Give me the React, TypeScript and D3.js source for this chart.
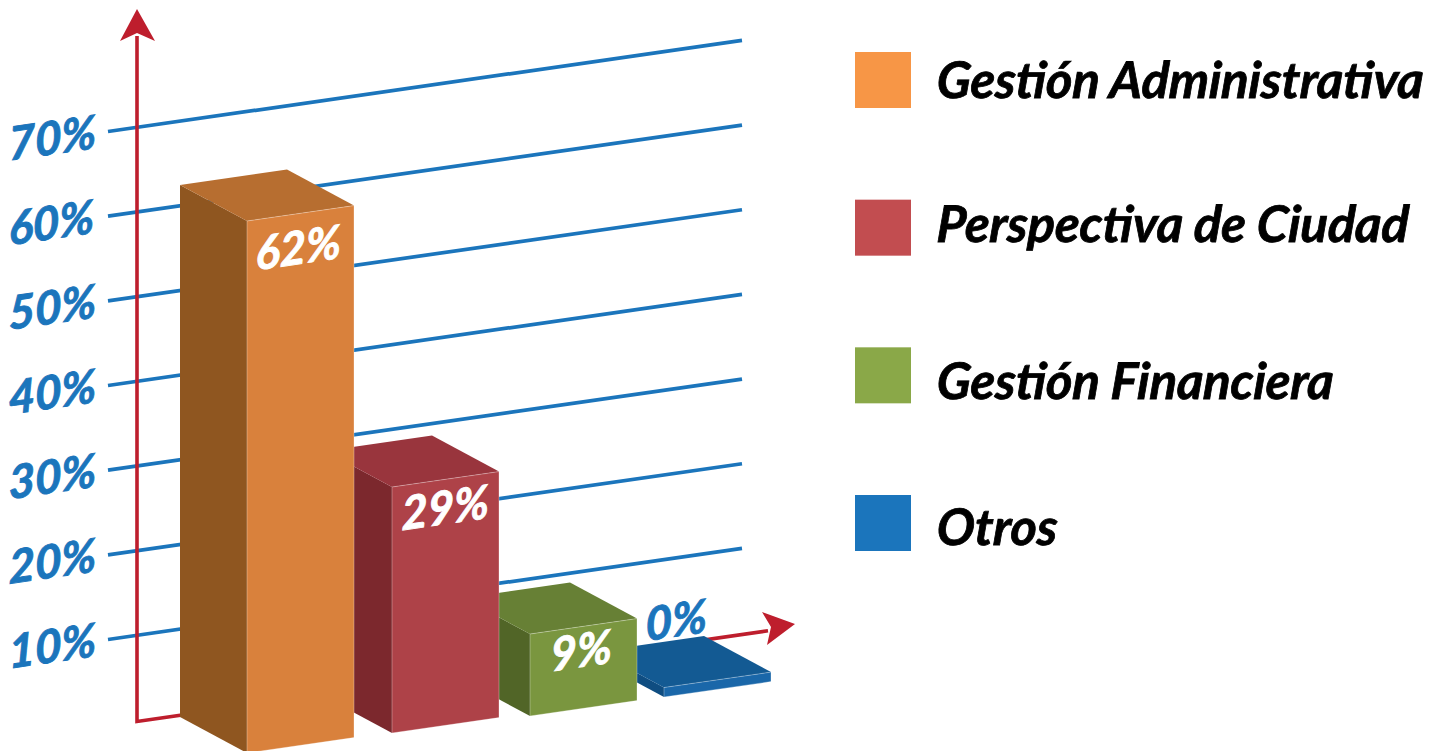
import React from "react";
import * as d3 from "d3";

const categories = ["Gestión Administrativa", "Perspectiva de Ciudad", "Gestión Financiera", "Otros"];
const values = [62, 29, 9, 0];
const valueLabels = ["62%", "29%", "9%", "0%"];
const tickValues = [10, 20, 30, 40, 50, 60, 70];
const legendColors = ["#f79646", "#c24d50", "#8aa848", "#1b75bc"];
const frontColors = ["#d9813c", "#ae4248", "#7a963f", "#1a67a9"];
const sideColors = ["#8f5620", "#7c282d", "#516527", "#0f4d81"];
const topColors = ["#b76e30", "#99353d", "#678035", "#135a93"];

const WIDTH = 1445;
const HEIGHT = 751;
const SLOPE = 0.1437;
const BAR_W = 107;
const DEPTH_X = 67;
const DEPTH_Y = 36;
const BLUE = "#1b75bc";
const RED = "#be1e2d";
const FONT = "Lato, Carlito, sans-serif";
const ANGLE = -8.2;
const SKEW = -7;

const gridY = d3.scaleLinear().domain([10, 70]).range([639.5, 131.5]);
const barX = d3.scaleLinear().domain([0, 1, 2, 3]).range([247, 392, 530, 664]);
const barBase = d3.scaleLinear().domain([0, 1, 2, 3]).range([753, 733, 716, 697]);
const barHeight = d3.scaleLinear().domain([0, 9, 29, 62]).range([9.5, 82, 246, 532]);
const labelDx = d3.scaleOrdinal<number, number>().domain([0, 1, 2, 3]).range([-2, 0, -2, -41]);
const labelDy = d3.scaleOrdinal<number, number>().domain([0, 1, 2, 3]).range([43, 37, 33, -51]);
const legendY = d3.scaleLinear().domain([0, 3]).range([52, 495]);
const legendTextY = d3.scaleLinear().domain([0, 1, 2, 3]).range([98, 242, 399, 545]);

const poly = d3.line<[number, number]>().curve(d3.curveLinearClosed);

function Bar({ i }: { i: number }) {
  const x = barX(i);
  const base = barBase(i);
  const top = base - barHeight(values[i]);
  const rise = BAR_W * SLOPE;
  const front: [number, number][] = [[x, top], [x + BAR_W, top - rise], [x + BAR_W, base - rise], [x, base]];
  const side: [number, number][] = [[x - DEPTH_X, top - DEPTH_Y], [x, top], [x, base], [x - DEPTH_X, base - DEPTH_Y]];
  const lid: [number, number][] = [
    [x - DEPTH_X, top - DEPTH_Y],
    [x + BAR_W - DEPTH_X, top - DEPTH_Y - rise],
    [x + BAR_W, top - rise],
    [x, top],
  ];
  return (
    <g>
      <path d={poly(side)!} fill={sideColors[i]} />
      <path d={poly(lid)!} fill={topColors[i]} />
      <path d={poly(front)!} fill={frontColors[i]} stroke="#ffffff" strokeOpacity={0.3} strokeWidth={1} />
    </g>
  );
}

function BarLabel({ i }: { i: number }) {
  const x = barX(i);
  const top = barBase(i) - barHeight(values[i]);
  const empty = values[i] === 0;
  const lx = x + BAR_W / 2 + labelDx(i);
  const ly = top + labelDy(i);
  const fill = empty ? BLUE : "#ffffff";
  return (
    <text
      transform={`translate(${lx},${ly}) rotate(${ANGLE}) skewX(${SKEW})`}
      textAnchor="middle"
      fontFamily={FONT}
      fontWeight={700}
      fontStyle="italic"
      fontSize={46}
      fill={fill}
      stroke={fill}
      strokeWidth={0.9}
    >
      {valueLabels[i]}
    </text>
  );
}

export default function App() {
  const order = d3.range(values.length).reverse();
  const x0 = 108;
  const x1 = 742;
  const axisX = 137;
  const axisBottom = 721.5;
  const axisEnd = 768;
  return (
    <svg
      width={WIDTH}
      height={HEIGHT}
      viewBox={`0 0 ${WIDTH} ${HEIGHT}`}
      style={{ position: "absolute", left: 0, top: 0, display: "block", background: "#fff" }}
    >
      {tickValues.map((t) => (
        <g key={t}>
          <line x1={x0} x2={x1} y1={gridY(t)} y2={gridY(t) - (x1 - x0) * SLOPE} stroke={BLUE} strokeWidth={3.7} />
          <text
            transform={`translate(9,${gridY(t) + 29}) rotate(${ANGLE}) skewX(${SKEW})`}
            fontFamily={FONT}
            fontWeight={700}
            fontStyle="italic"
            fontSize={46}
            fill={BLUE}
            stroke={BLUE}
            strokeWidth={0.9}
          >
            {t}%
          </text>
        </g>
      ))}
      <path
        d={`M${axisX},36 L${axisX},${axisBottom} L${axisEnd},${axisBottom - (axisEnd - axisX) * SLOPE}`}
        fill="none"
        stroke={RED}
        strokeWidth={3.6}
      />
      <path d={poly([[137, 9], [155, 41], [137, 33], [120, 41]])!} fill={RED} />
      <path d={poly([[795, 624], [767, 645], [771, 627], [762, 612]])!} fill={RED} />
      {order.map((i) => (
        <Bar key={i} i={i} />
      ))}
      {order.map((i) => (
        <BarLabel key={i} i={i} />
      ))}
      {categories.map((c, i) => (
        <g key={c}>
          <rect x={855} y={legendY(i)} width={56} height={56} fill={legendColors[i]} />
          <text
            transform={`translate(936,${legendTextY(i)}) skewX(-3)`}
            fontFamily={FONT}
            fontWeight={700}
            fontStyle="italic"
            fontSize={50.5}
            fill="#000"
            stroke="#000"
            strokeWidth={0.8}
          >
            {c}
          </text>
        </g>
      ))}
    </svg>
  );
}
